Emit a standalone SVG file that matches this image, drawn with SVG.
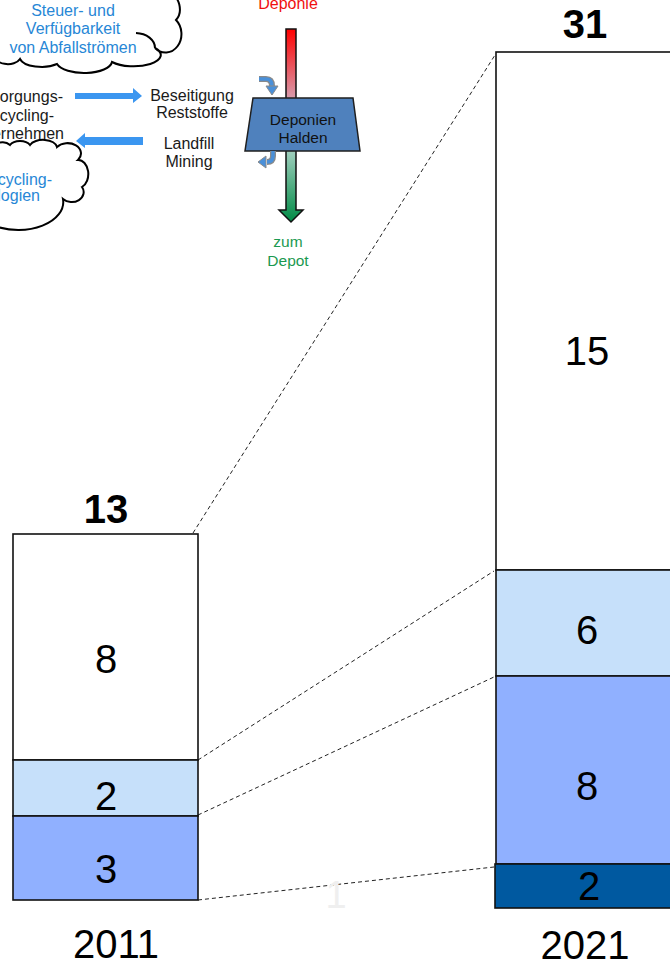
<svg xmlns="http://www.w3.org/2000/svg" width="670" height="963" viewBox="0 0 670 963">
<style>
text{font-family:"Liberation Sans",Arial,sans-serif}
.cloud{fill:#fff;stroke:#000;stroke-width:2}
.ct{fill:#2787d6;font-size:16px;text-anchor:middle}
.lt{fill:#1a1a1a;font-size:16px}
.bar{stroke:#111;stroke-width:1.6}
.num{font-size:40px;text-anchor:middle;fill:#000}
.tot{font-size:40px;font-weight:bold;text-anchor:middle;fill:#000}
.dash{stroke:#222;stroke-width:1;stroke-dasharray:4 3;fill:none}
.barr{fill:#3b96f0}
</style>
<defs>
<linearGradient id="gr" gradientUnits="userSpaceOnUse" x1="0" y1="29" x2="0" y2="222">
<stop offset="0" stop-color="#ff0000"/>
<stop offset="0.35" stop-color="#d898a8"/>
<stop offset="0.5" stop-color="#d4d0d0"/>
<stop offset="0.65" stop-color="#98ccb8"/>
<stop offset="1" stop-color="#008a45"/>
</linearGradient>
</defs>

<g id="cloud-top">
<path class="cloud" d="M -5,55 A 13 8 0 0 0 20,59 A 22 10 0 0 0 57,64 A 28 12 0 0 0 112,62 A 24 10 0 0 0 155,48 A 12 14 0 0 0 176,20 A 10 14 0 0 0 170,-5 L -5,-5 Z"/>
<path class="cloud" fill="none" d="M 136,33 A 20 15 0 0 1 155,48"/>
<text class="ct" x="73" y="16">Steuer- und</text>
<text class="ct" x="73" y="34">Verfügbarkeit</text>
<text class="ct" x="73" y="53">von Abfallströmen</text>
</g>

<g id="node-unternehmen">
<text class="lt" text-anchor="end" x="63" y="102">orgungs-</text>
<text class="lt" text-anchor="end" x="54" y="121">cycling-</text>
<text class="lt" text-anchor="end" x="64" y="139">ernehmen</text>
</g>

<g id="cloud-bottom">
<path class="cloud" d="M -5,156 A 10 8 0 0 1 10,145 A 11 7 0 0 1 30,145 A 14 8 0 0 1 57,147 A 13 10 0 0 1 78,160 A 10 14 0 0 1 82,187 A 12 10 0 0 1 63,199 A 45 28 0 0 1 -5,226 Z"/>
<text class="ct" style="text-anchor:end" x="52" y="185">cycling-</text>
<text class="ct" style="text-anchor:end" x="40" y="201">logien</text>
</g>

<g id="node-beseitigung">
<text class="lt" text-anchor="middle" x="192" y="101">Beseitigung</text>
<text class="lt" text-anchor="middle" x="192" y="118">Reststoffe</text>
</g>
<g id="node-landfill">
<text class="lt" text-anchor="middle" x="189" y="149">Landfill</text>
<text class="lt" text-anchor="middle" x="189" y="167">Mining</text>
</g>

<g id="node-deponie-label">
<text x="288" y="9" font-size="16" fill="#f01010" text-anchor="middle">Deponie</text>
</g>
<g id="node-depot-label">
<text x="288" y="247" font-size="15.5" fill="#1a9950" text-anchor="middle">zum</text>
<text x="288" y="266" font-size="15.5" fill="#1a9950" text-anchor="middle">Depot</text>
</g>

<g id="node-flow-arrow">
<path d="M 286,29 L 296,29 L 296,210 L 303,210 L 291,222 L 279,210 L 286,210 Z" fill="url(#gr)" stroke="#111" stroke-width="1.5"/>
</g>

<g id="node-deponien">
<polygon points="253,98 353,98 360,151 245,151" fill="#4f81bd" stroke="#1f1f1f" stroke-width="1.5"/>
<text x="303" y="125" font-size="15.5" fill="#111" text-anchor="middle">Deponien</text>
<text x="303" y="143" font-size="15.5" fill="#111" text-anchor="middle">Halden</text>
</g>

<g id="connectors">
<polygon class="barr" points="75,93 133,93 133,88 142,96 133,103 133,99 75,99"/>
<polygon class="barr" points="143,137 85,137 85,133 76,141 85,148 85,145 143,145"/>
<path d="M 259,79 L 266,79 Q 272,79 272,86" fill="none" stroke="#8a8a8a" stroke-width="6"/>
<path d="M 259,79 L 266,79 Q 272,79 272,86" fill="none" stroke="#4a90d9" stroke-width="3.5"/>
<polygon points="266,86 278,86 272,95" fill="#4a90d9" stroke="#8a8a8a" stroke-width="1"/>
<path d="M 273,151 L 273,156 Q 273,162 267,162" fill="none" stroke="#8a8a8a" stroke-width="6"/>
<path d="M 273,151 L 273,156 Q 273,162 267,162" fill="none" stroke="#4a90d9" stroke-width="3.5"/>
<polygon points="266,156 266,168 258,162" fill="#4a90d9" stroke="#8a8a8a" stroke-width="1"/>
<line class="dash" x1="193" y1="533" x2="495" y2="55"/>
<line class="dash" x1="198" y1="760" x2="494" y2="571"/>
<line class="dash" x1="198" y1="815" x2="494" y2="677"/>
<line class="dash" x1="198" y1="900" x2="494" y2="867"/>
</g>

<g id="bar-2011">
<rect class="bar" x="13" y="534" width="185" height="226" fill="#fff"/>
<rect class="bar" x="13" y="760" width="185" height="56" fill="#c6e0fa"/>
<rect class="bar" x="13" y="816" width="185" height="84" fill="#90b0ff"/>
<text class="tot" x="106" y="523">13</text>
<text class="num" x="106" y="673">8</text>
<text class="num" x="106" y="810">2</text>
<text class="num" x="106" y="883">3</text>
<text class="num" x="116" y="958">2011</text>
</g>

<text x="336" y="908" font-size="38" fill="#efefef" text-anchor="middle">1</text>

<g id="bar-2021">
<rect class="bar" x="496" y="52" width="190" height="518" fill="#fff"/>
<rect class="bar" x="496" y="570" width="190" height="106" fill="#c6e0fa"/>
<rect class="bar" x="496" y="676" width="190" height="188" fill="#90b0ff"/>
<rect class="bar" x="495" y="864" width="191" height="44" fill="#0059a0"/>
<text class="tot" x="585" y="38">31</text>
<text class="num" x="587" y="365" font-size="42">15</text>
<text class="num" x="587" y="644" font-size="42">6</text>
<text class="num" x="587" y="800" font-size="42">8</text>
<text class="num" x="589" y="900" font-size="42" fill="#fff">2</text>
<text class="num" x="585" y="959" font-size="40">2021</text>
</g>
</svg>
